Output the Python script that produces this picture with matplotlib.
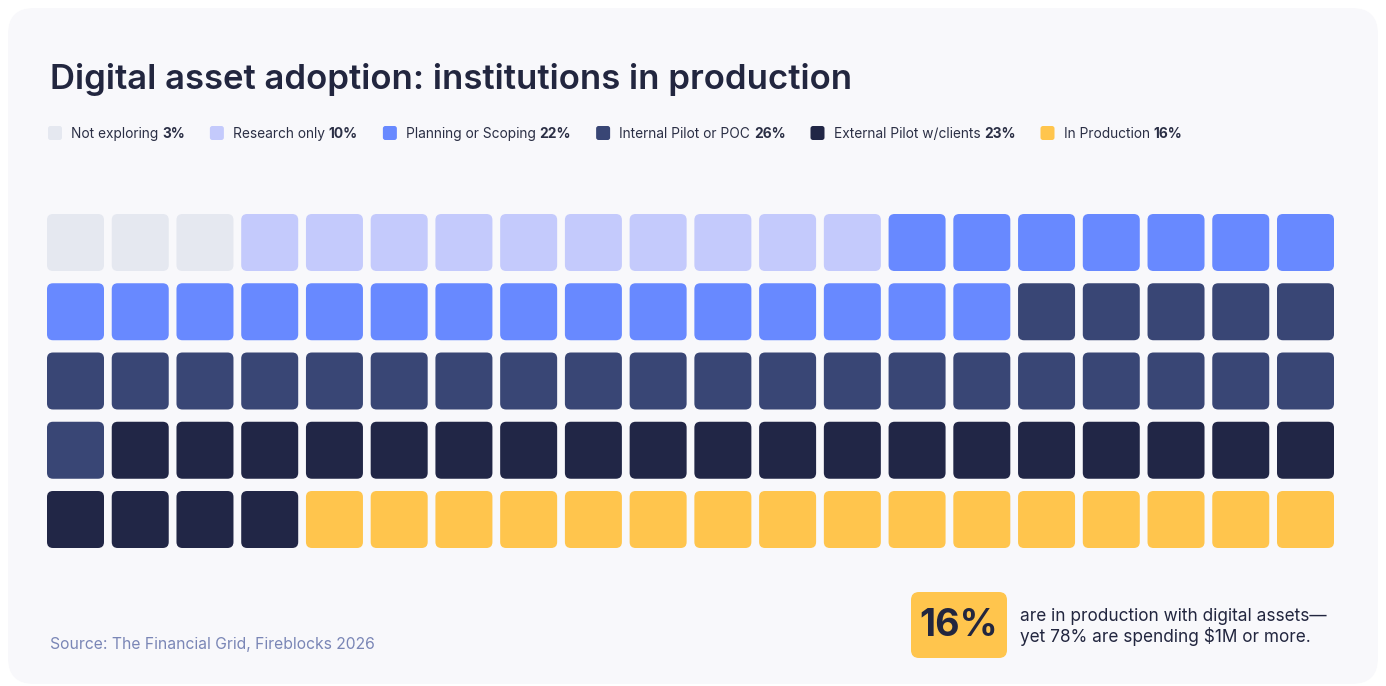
import matplotlib
matplotlib.use("Agg")
import matplotlib.pyplot as plt
from matplotlib.patches import FancyBboxPatch

plt.rcParams['font.family'] = ['Inter', 'DejaVu Sans']

# ---- data ----
categories = ["Not exploring", "Research only", "Planning or Scoping",
              "Internal Pilot or POC", "External Pilot w/clients", "In Production"]
shares = [3, 10, 22, 26, 23, 16]
colors = ["#E5E8F0", "#C4CAFC", "#6889FF", "#394675", "#212646", "#FFC54D"]
title = "Digital asset adoption: institutions in production"
source = "Source: The Financial Grid, Fireblocks 2026"
highlight_value = 16
highlight_text = "are in production with digital assets\u2014\nyet 78% are spending $1M or more."

W, H = 1386, 686
DARK = "#22263F"

fig = plt.figure(figsize=(W / 100, H / 100), dpi=100)
fig.patch.set_facecolor("white")
ax = fig.add_axes([0, 0, 1, 1])
ax.set_xlim(0, W)
ax.set_ylim(H, 0)
ax.axis("off")

# card background
ax.add_patch(FancyBboxPatch((8, 8), W - 16, H - 10,
                            boxstyle="round,pad=0,rounding_size=26",
                            fc="#F8F8FB", ec="none", zorder=0))

ax.text(50, 80, title, fontsize=25, fontweight="semibold", color=DARK,
        va="center", ha="left")

# legend: swatch, label, bold percentage
renderer = fig.canvas.get_renderer()
x = 48
ly = 133
for cat, val, col in zip(categories, shares, colors):
    ax.add_patch(FancyBboxPatch((x, ly - 7), 14, 14,
                                boxstyle="round,pad=0,rounding_size=2.5",
                                fc=col, ec="none", zorder=2))
    t1 = ax.text(x + 23, ly + 1, cat + " ", fontsize=9.9, color="#2B2F45",
                 va="center", ha="left")
    bb = t1.get_window_extent(renderer)
    t2 = ax.text(bb.x1, ly + 1, f"{val}%", fontsize=9.9, fontweight="bold",
                 color="#2B2F45", va="center", ha="left")
    bb2 = t2.get_window_extent(renderer)
    x = bb2.x1 + 25

# waffle grid: 20 columns x 5 rows
ncols, nrows = 20, 5
x0, y0 = 47, 214
px, py = (1334 - 57 - 47) / (ncols - 1), (548 - 57 - 214) / (nrows - 1)
cw, ch = 57, 57
cells = []
for val, col in zip(shares, colors):
    cells += [col] * val
for i, col in enumerate(cells):
    r, c = divmod(i, ncols)
    ax.add_patch(FancyBboxPatch((x0 + c * px, y0 + r * py), cw, ch,
                                boxstyle="round,pad=0,rounding_size=6",
                                fc=col, ec="none", zorder=2))

# source note
ax.text(50, 644, source, fontsize=11.3, color="#7A86B6", va="center", ha="left")

# highlight callout
ax.add_patch(FancyBboxPatch((911, 592), 96, 66,
                            boxstyle="round,pad=0,rounding_size=8",
                            fc=colors[-1], ec="none", zorder=2))
ax.text(959, 626, f"{highlight_value}%", fontsize=27, fontweight="bold",
        color=DARK, va="center", ha="center", zorder=3)
ax.text(1020, 627, highlight_text, fontsize=12.4, color=DARK, va="center",
        ha="left", linespacing=1.15)

fig.savefig("out.png", dpi=100, facecolor=fig.get_facecolor())
